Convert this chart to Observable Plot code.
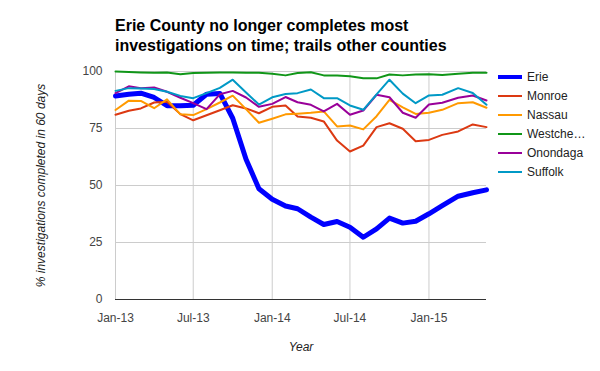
<!DOCTYPE html>
<html><head><meta charset="utf-8">
<script src="https://cdn.jsdelivr.net/npm/d3@7"></script>
<script src="https://cdn.jsdelivr.net/npm/@observablehq/plot@0.6"></script>
<style>
body{margin:0;background:#fff;}
#chart{position:relative;width:600px;height:371px;font-family:Arial,"Liberation Sans",sans-serif;}
#title{position:absolute;left:115px;top:16px;font-size:16px;font-weight:bold;line-height:20px;color:#000;white-space:nowrap;}
#legend{position:absolute;left:498px;top:67px;font-size:12px;color:#222;}
.item{display:flex;align-items:center;height:19px;}
.sw{width:24px;margin-right:5px;}
#chart svg{position:absolute;left:0;top:0;}
#chart svg text{font-family:Arial,"Liberation Sans",sans-serif;}
g[aria-label="x-axis tick label"] text, g[aria-label="y-axis tick label"] text{fill:#444;}
g[aria-label="x-axis label"] text, g[aria-label="y-axis label"] text{fill:#222;font-style:italic;}
</style></head>
<body><div id="chart"><div id="title">Erie County no longer completes most<br>investigations on time; trails other counties</div><div id="legend"></div></div>
<script>
// Data
const dates = ["2013-01-01","2013-02-01","2013-03-01","2013-04-01","2013-05-01","2013-06-01","2013-07-01","2013-08-01","2013-09-01","2013-10-01","2013-11-01","2013-12-01",
  "2014-01-01","2014-02-01","2014-03-01","2014-04-01","2014-05-01","2014-06-01","2014-07-01","2014-08-01","2014-09-01","2014-10-01","2014-11-01","2014-12-01",
  "2015-01-01","2015-02-01","2015-03-10","2015-04-13","2015-05-15"];
const counties = ["Erie","Monroe","Nassau","Westchester","Onondaga","Suffolk"];
const legendLabels = ["Erie","Monroe","Nassau","Westche…","Onondaga","Suffolk"];
const colors = ["#0000ff","#dc3912","#ff9900","#109618","#990099","#0099c6"];
const erie = [89.3,90.0,90.5,88.6,85.0,85.0,85.2,90.0,90.4,79.5,61.5,48.6,44.0,41.0,39.8,36.1,32.9,34.2,31.7,27.3,31.0,35.7,33.5,34.3,37.6,41.2,45.3,46.8,48.1];
const monroe = [81.0,82.8,83.8,86.4,86.7,81.3,78.6,80.8,83.0,85.2,83.8,81.7,84.5,85.1,80.3,79.7,78.1,69.7,64.9,67.5,75.6,77.3,74.9,69.4,70.0,72.2,73.7,76.8,75.6];
const nassau = [83.1,87.2,87.1,83.9,87.8,81.2,80.9,83.5,86.4,89.4,83.5,77.5,79.3,81.2,81.5,81.9,82.5,75.9,76.3,74.6,80.4,87.6,84.3,81.4,81.9,83.2,86.1,86.5,84.1];
const westchester = [100,99.8,99.6,99.5,99.6,98.8,99.3,99.5,99.6,99.6,99.5,99.5,99.0,98.3,99.3,99.7,98.3,98.2,97.9,97.0,97.0,98.7,98.3,98.7,98.8,98.5,99.0,99.4,99.5];
const onondaga = [90.5,93.5,92.7,93.0,91.1,88.5,86.1,83.5,90.0,91.5,88.6,84.5,85.8,88.8,86.5,85.4,82.5,85.8,81.0,82.9,89.8,88.7,81.9,79.7,85.5,86.3,88.5,89.5,87.3];
const suffolk = [91.5,92.7,92.5,92.3,91.1,89.3,88.3,90.5,92.8,96.4,90.8,85.5,88.7,90.1,90.5,92.1,88.3,88.3,85.1,83.2,90.0,96.4,90.3,86.1,89.5,89.8,92.7,90.6,85.4];
const xTickDates = ["2013-01-01","2013-07-01","2014-01-01","2014-07-01","2015-01-01"];
const yTicks = [0,25,50,75,100];
const xDomain = ["2013-01-01","2015-05-15"];

const series = [erie, monroe, nassau, westchester, onondaga, suffolk];
const data = counties.flatMap((c, i) => series[i].map((v, j) => ({county: c, date: new Date(dates[j]), value: v})));
const xTicks = xTickDates.map(d => new Date(d));

const plot = Plot.plot({
  width: 600,
  height: 371,
  marginLeft: 115,
  marginRight: 114,
  marginTop: 71,
  marginBottom: 72,
  style: {background: "transparent", fontSize: "12px", fontFamily: "Arial, 'Liberation Sans', sans-serif"},
  x: {type: "utc", domain: xDomain.map(d => new Date(d))},
  y: {domain: [0, 100]},
  color: {domain: counties, range: colors},
  marks: [
    Plot.gridX(xTicks, {stroke: "#cccccc", strokeOpacity: 1}),
    Plot.gridY(yTicks.filter(t => t > 0), {stroke: "#cccccc", strokeOpacity: 1}),
    Plot.ruleY([0], {stroke: "#333333", strokeWidth: 1}),
    Plot.line(data.filter(d => d.county === "Erie"), {x: "date", y: "value", stroke: "county", strokeWidth: 5, strokeLinejoin: "round"}),
    Plot.line(data.filter(d => d.county !== "Erie"), {x: "date", y: "value", z: "county", stroke: "county", strokeWidth: 2, strokeLinejoin: "round"}),
    Plot.axisX({ticks: xTicks, tickFormat: d3.utcFormat("%b-%y"), tickSize: 0, tickPadding: 14, label: "Year", labelAnchor: "center", labelOffset: 51, labelArrow: "none"}),
    Plot.axisY({ticks: yTicks, tickSize: 0, tickPadding: 13, label: "% investigations completed in 60 days", labelAnchor: "center", labelOffset: 79, labelArrow: "none"})
  ]
});
document.getElementById("chart").appendChild(plot);

const legend = document.getElementById("legend");
counties.forEach((c, i) => {
  const item = document.createElement("div");
  item.className = "item";
  const sw = document.createElement("div");
  sw.className = "sw";
  sw.style.height = (c === "Erie" ? 4 : 2) + "px";
  sw.style.background = colors[i];
  const t = document.createElement("span");
  t.textContent = legendLabels[i];
  item.appendChild(sw);
  item.appendChild(t);
  legend.appendChild(item);
});
</script>
</body></html>
